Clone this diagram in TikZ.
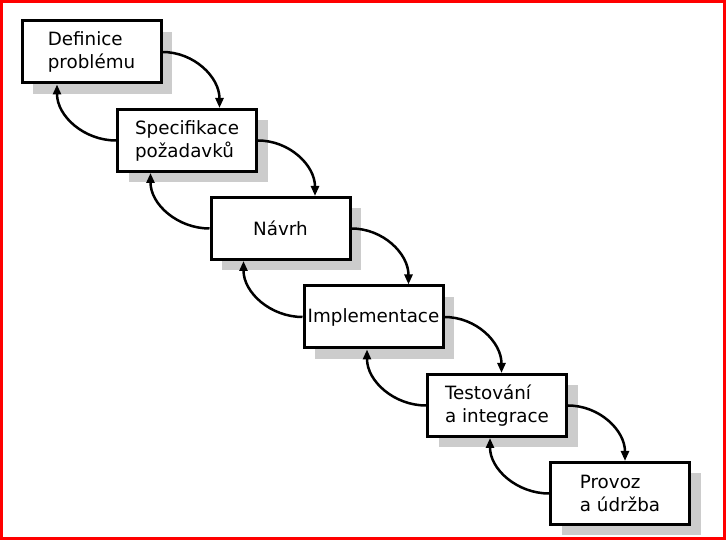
\documentclass[tikz,border=0pt]{standalone}
\usepackage{fontspec}
\setmainfont{DejaVu Sans}
\usetikzlibrary{arrows.meta,shadows,calc}
\definecolor{shadowgray}{HTML}{CCCCCC}
\definecolor{frame}{HTML}{FF0000}
\tikzset{
  stage/.style={draw, line width=3pt, fill=white, minimum width=139pt,
    minimum height=62pt, inner sep=2pt, align=left,
    font=\fontsize{18.3}{23}\selectfont,
    general shadow={fill=shadowgray, shadow xshift=11pt, shadow yshift=-11pt}},
  flow/.style={line width=2.5pt, -{Triangle[length=10pt,width=8pt]}},
}
\begin{document}
\begin{tikzpicture}[x=1pt,y=1pt]
\useasboundingbox (0,0) rectangle (726,540);
\fill[white] (0,0) rectangle (726,540);
\draw[frame, line width=3pt] (1.5,1.5) rectangle (724.5,538.5);

\node[stage] (b1) at (91.5,488)  {Definice\\problému};
\node[stage] (b2) at (187,399.5) {Specifikace\\požadavků};
\node[stage] (b3) at (280.5,311.5) {Návrh};
\node[stage] (b4) at (373.5,223) {Implementace};
\node[stage] (b5) at (497,134.5) {Testování\\a integrace};
\node[stage] (b6) at (620,46.5) {Provoz\\a údržba};

\foreach \a/\b in {b1/b2,b2/b3,b3/b4,b4/b5,b5/b6}{
  \coordinate (f\a) at ($(\b.north -| \a.east)+(57pt,0)$);
  \draw[flow] (\a.east) to[out=0,in=90] (f\a);
  \coordinate (r\b) at ($(\a.south -| \b.west)+(-59pt,0)$);
  \draw[flow] (\b.west) to[out=180,in=-90] (r\b);
}
\end{tikzpicture}
\end{document}
